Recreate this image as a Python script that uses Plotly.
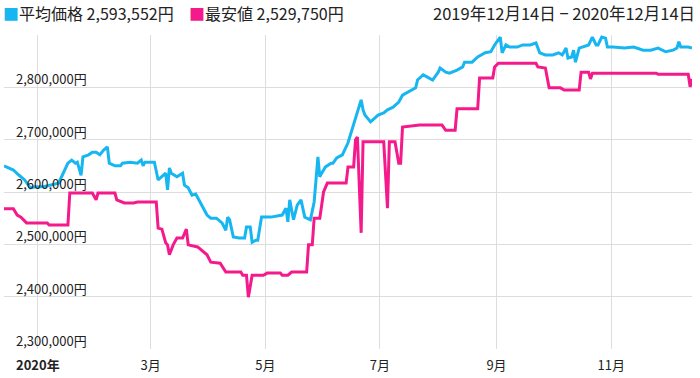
import pandas as pd
import plotly.graph_objects as go

START = "2019-12-14"
END = "2020-12-14"

# days since 2019-12-14, price in yen
avg_days = [0, 5, 8, 11, 14, 17, 21, 24, 29, 31, 34, 36, 38, 39, 41, 42, 45, 47, 49, 51, 53, 55,
            56, 59, 62, 63, 67, 71, 73, 74, 75, 78, 80, 82, 84, 86, 87, 88, 89, 92, 95, 96, 98,
            100, 102, 103, 105, 108, 110, 113, 116, 118, 119, 120, 122, 125, 128, 129, 131, 132,
            134, 135, 137, 142, 148, 150, 151, 152, 154, 156, 158, 160, 163, 165, 167, 168, 169,
            171, 174, 175, 177, 180, 183, 185, 187, 188, 190, 191, 192, 195, 199, 202, 204, 207,
            210, 212, 215, 219, 220, 223, 225, 228, 231, 232, 235, 237, 241, 244, 245, 249, 252,
            256, 259, 261, 264, 265, 267, 269, 273, 276, 280, 283, 285, 288, 292, 295, 297, 299,
            300, 302, 303, 304, 306, 308, 311, 313, 315, 316, 318, 320, 321, 324, 330, 335, 340,
            344, 348, 352, 356, 358, 359, 360, 364, 366]
avg_price = [2650000, 2642000, 2632000, 2623000, 2608000, 2610000, 2610000, 2613000, 2617000,
             2632000, 2655000, 2661000, 2655000, 2657000, 2632000, 2667000, 2671000, 2676000,
             2676000, 2671000, 2680000, 2686000, 2655000, 2650000, 2650000, 2655000, 2657000,
             2655000, 2661000, 2650000, 2657000, 2657000, 2657000, 2623000, 2629000, 2636000,
             2604000, 2646000, 2636000, 2629000, 2636000, 2613000, 2608000, 2594000, 2596000,
             2589000, 2575000, 2556000, 2550000, 2550000, 2541000, 2527000, 2552000, 2547000,
             2514000, 2512000, 2512000, 2533000, 2533000, 2504000, 2508000, 2508000, 2552000,
             2552000, 2556000, 2569000, 2543000, 2585000, 2547000, 2575000, 2585000, 2552000,
             2547000, 2581000, 2667000, 2629000, 2636000, 2648000, 2655000, 2655000, 2665000,
             2671000, 2694000, 2718000, 2738000, 2751000, 2776000, 2757000, 2747000, 2734000,
             2747000, 2751000, 2757000, 2762000, 2772000, 2785000, 2791000, 2799000, 2814000,
             2824000, 2820000, 2814000, 2829000, 2837000, 2829000, 2827000, 2833000, 2839000,
             2848000, 2848000, 2858000, 2866000, 2868000, 2881000, 2896000, 2866000, 2881000,
             2877000, 2877000, 2881000, 2881000, 2885000, 2866000, 2862000, 2862000, 2866000,
             2862000, 2875000, 2856000, 2858000, 2871000, 2848000, 2875000, 2877000, 2881000,
             2896000, 2881000, 2881000, 2896000, 2894000, 2877000, 2877000, 2875000, 2877000,
             2871000, 2871000, 2875000, 2868000, 2871000, 2875000, 2887000, 2877000, 2877000,
             2875000]

min_days = [0, 5, 7, 9, 12, 23, 24, 34, 35, 47, 49, 50, 59, 60, 64, 69, 71, 81, 82, 84, 86, 87,
            88, 90, 92, 95, 97, 98, 103, 108, 110, 115, 118, 126, 127, 129, 130, 132, 138, 140,
            147, 148, 151, 153, 161, 162, 164, 165, 168, 170, 172, 182, 183, 186, 187, 188, 190,
            191, 202, 204, 205, 208, 210, 211, 212, 221, 233, 235, 240, 241, 252, 253, 260, 261,
            263, 283, 284, 288, 290, 296, 298, 306, 307, 311, 312, 313, 347, 348, 364, 365, 366]
min_price = [2568000, 2568000, 2556000, 2552000, 2541000, 2541000, 2537000, 2537000, 2598000,
             2598000, 2585000, 2598000, 2598000, 2585000, 2579000, 2579000, 2581000, 2581000,
             2531000, 2529000, 2503000, 2499000, 2480000, 2499000, 2512000, 2512000, 2529000,
             2499000, 2495000, 2480000, 2466000, 2464000, 2447000, 2447000, 2441000, 2441000,
             2399000, 2441000, 2441000, 2445000, 2445000, 2441000, 2441000, 2447000, 2447000,
             2499000, 2499000, 2550000, 2550000, 2600000, 2617000, 2617000, 2648000, 2648000,
             2700000, 2705000, 2522000, 2696000, 2696000, 2569000, 2696000, 2696000, 2655000,
             2655000, 2724000, 2728000, 2728000, 2718000, 2718000, 2759000, 2759000, 2818000,
             2818000, 2839000, 2846000, 2846000, 2839000, 2837000, 2799000, 2799000, 2795000,
             2795000, 2829000, 2829000, 2816000, 2827000, 2827000, 2825000, 2825000, 2801000,
             2816000]

y_ticks = [2300000, 2400000, 2500000, 2600000, 2700000, 2800000, 2900000]
y_label_vals = [2300000, 2400000, 2500000, 2600000, 2700000, 2800000]
y_label_text = ["2,300,000円", "2,400,000円", "2,500,000円", "2,600,000円",
                "2,700,000円", "2,800,000円"]
x_ticks = ["2020-01-01", "2020-03-01", "2020-05-01", "2020-07-01", "2020-09-01", "2020-11-01"]
x_tick_text = ["<b>2020年</b>", "3月", "5月", "7月", "9月", "11月"]

avg_label = "平均価格 2,593,552円"
min_label = "最安値 2,529,750円"
range_label = "2019年12月14日 − 2020年12月14日"

BLUE = "#18b6f0"
PINK = "#f41a8b"
FONT = "Noto Sans CJK JP"
TXT = "#222222"

start = pd.Timestamp(START)
avg_dates = [start + pd.Timedelta(days=d) for d in avg_days]
min_dates = [start + pd.Timedelta(days=d) for d in min_days]

fig = go.Figure()
fig.add_trace(go.Scatter(x=avg_dates, y=avg_price, mode="lines",
                         line=dict(color=BLUE, width=3), name="平均価格"))
fig.add_trace(go.Scatter(x=min_dates, y=min_price, mode="lines",
                         line=dict(color=PINK, width=3), name="最安値"))

fig.update_layout(
    width=700, height=378,
    margin=dict(l=4, r=8, t=35, b=29),
    paper_bgcolor="white", plot_bgcolor="white",
    showlegend=False,
    font=dict(family=FONT, color=TXT, size=13),
    xaxis=dict(range=[START, END], tickvals=x_ticks, ticktext=x_tick_text,
               showgrid=True, gridcolor="#dddddd", gridwidth=1, zeroline=False,
               showline=False, ticks="", ticklabelstandoff=7, automargin=False,
               tickfont=dict(size=13, color=TXT)),
    yaxis=dict(range=[2300000, 2900000], tickvals=y_ticks, showticklabels=False,
               showgrid=True, gridcolor="#dddddd", gridwidth=1, zeroline=False,
               showline=False, ticks="", automargin=False),
)

for v, t in zip(y_label_vals, y_label_text):
    fig.add_annotation(xref="paper", yref="y", x=0, y=v, xanchor="left", yanchor="bottom",
                       xshift=10, yshift=-3, showarrow=False, text=t,
                       font=dict(size=13, color=TXT))

fig.add_annotation(xref="paper", yref="paper", x=0, y=1, xanchor="left", yanchor="middle",
                   xshift=-3, yshift=22, showarrow=False, font=dict(size=16, color=TXT),
                   text=f"<span style='color:{BLUE}'>■</span>{avg_label}")
fig.add_annotation(xref="paper", yref="paper", x=0, y=1, xanchor="left", yanchor="middle",
                   xshift=183, yshift=22, showarrow=False, font=dict(size=16, color=TXT),
                   text=f"<span style='color:{PINK}'>■</span>{min_label}")
fig.add_annotation(xref="paper", yref="paper", x=1, y=1, xanchor="right", yanchor="middle",
                   xshift=5, yshift=22, showarrow=False, font=dict(size=16.5, color=TXT),
                   text=range_label)

fig.write_html("out.html", config={"displayModeBar": False},
               post_script="document.body.style.margin='0';document.body.style.padding='0';")
